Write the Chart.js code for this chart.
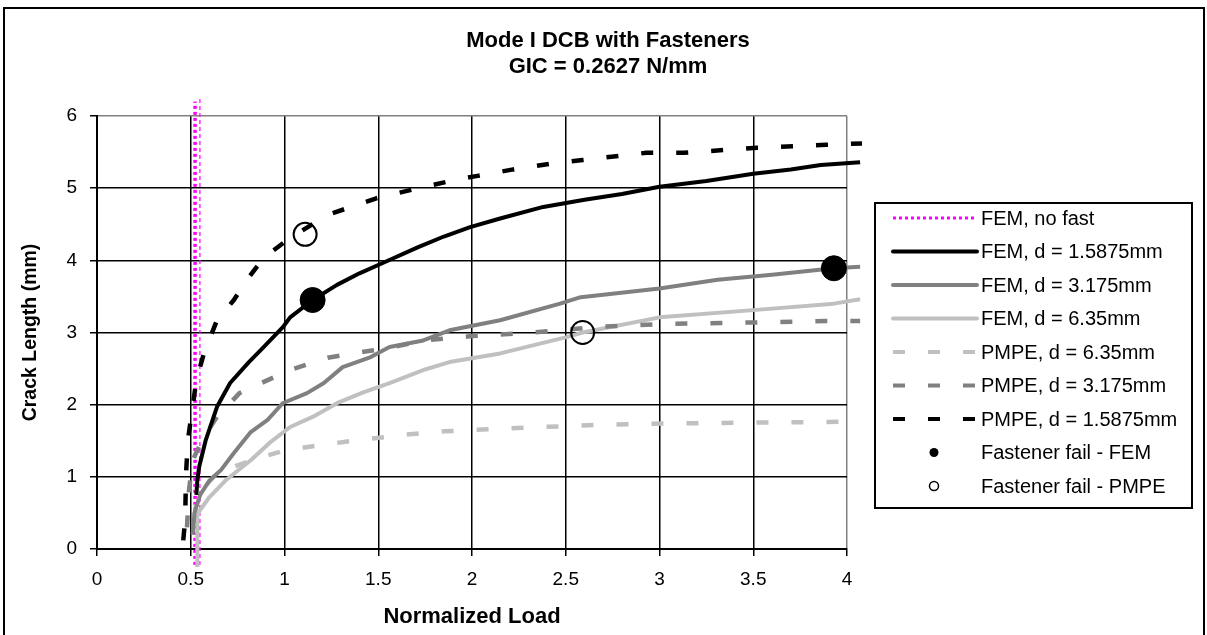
<!DOCTYPE html>
<html>
<head>
<meta charset="utf-8">
<script src="https://cdn.jsdelivr.net/npm/chart.js@4.4.1/dist/chart.umd.min.js"></script>
<style>
html,body{margin:0;padding:0;background:#fff;}
#wrap{width:1207px;height:635px;position:relative;}
</style>
</head>
<body>
<div id="wrap"><canvas id="c" width="1207" height="635"></canvas></div>
<script>
// ---- Data ----
const titleLines = ['Mode I DCB with Fasteners', 'GIC = 0.2627 N/mm'];
const xTitle = 'Normalized Load';
const yTitle = 'Crack Length (mm)';
const xTicks = [0, 0.5, 1, 1.5, 2, 2.5, 3, 3.5, 4];
const yTicks = [0, 1, 2, 3, 4, 5, 6];

const noFastX = [0.523, 0.523];
const noFastY = [-0.22, 6.2];
const noFast2X = [0.549, 0.549];
const noFast2Y = [-0.22, 6.25];

const fem1X = [0.53, 0.535, 0.545, 0.58, 0.64, 0.71, 0.81, 0.89, 0.99, 1.03, 1.15, 1.28, 1.40, 1.53, 1.71, 1.85, 1.99, 2.15, 2.38, 2.6, 2.8, 3.0, 3.25, 3.5, 3.7, 3.86, 4.07];
const fem1Y = [0.75, 0.95, 1.14, 1.51, 1.97, 2.30, 2.59, 2.80, 3.07, 3.21, 3.45, 3.66, 3.82, 3.97, 4.18, 4.33, 4.46, 4.58, 4.74, 4.84, 4.92, 5.02, 5.10, 5.20, 5.26, 5.32, 5.36];

const fem3X = [0.51, 0.52, 0.55, 0.60, 0.66, 0.73, 0.82, 0.91, 0.99, 1.12, 1.21, 1.31, 1.46, 1.56, 1.74, 1.88, 2.15, 2.47, 2.58, 3.0, 3.31, 3.6, 3.93, 4.07];
const fem3Y = [0.2, 0.5, 0.75, 0.95, 1.09, 1.33, 1.62, 1.79, 2.02, 2.16, 2.30, 2.52, 2.66, 2.80, 2.89, 3.03, 3.17, 3.40, 3.49, 3.61, 3.73, 3.80, 3.89, 3.91];

const fem6X = [0.535, 0.535, 0.55, 0.60, 0.69, 0.82, 0.92, 1.03, 1.15, 1.28, 1.42, 1.56, 1.74, 1.88, 2.15, 2.51, 2.59, 3.0, 3.5, 3.93, 4.07];
const fem6Y = [-0.25, 0.45, 0.54, 0.72, 0.96, 1.23, 1.47, 1.69, 1.83, 2.02, 2.17, 2.30, 2.48, 2.59, 2.71, 2.94, 3.0, 3.21, 3.31, 3.40, 3.46];

const pmpe6X = [0.52, 0.53, 0.56, 0.64, 0.75, 0.87, 1.01, 1.19, 1.40, 1.63, 1.85, 2.27, 2.68, 3.07, 3.47, 3.86, 4.07];
const pmpe6Y = [0.45, 0.65, 0.82, 1.05, 1.16, 1.27, 1.37, 1.44, 1.51, 1.58, 1.63, 1.68, 1.72, 1.74, 1.75, 1.76, 1.77];

const pmpe3X = [0.48, 0.49, 0.51, 0.57, 0.64, 0.76, 0.91, 1.03, 1.23, 1.44, 1.55, 1.74, 2.0, 2.27, 2.47, 2.67, 3.07, 3.52, 3.89, 4.07];
const pmpe3Y = [0.3, 0.8, 1.23, 1.55, 1.83, 2.16, 2.34, 2.48, 2.65, 2.74, 2.78, 2.89, 2.95, 2.99, 3.03, 3.08, 3.12, 3.14, 3.16, 3.16];

const pmpe1X = [0.46, 0.47, 0.475, 0.485, 0.51, 0.53, 0.57, 0.64, 0.73, 0.80, 0.89, 1.03, 1.23, 1.49, 1.73, 1.92, 2.03, 2.22, 2.42, 2.59, 2.93, 3.13, 3.52, 3.89, 4.08];
const pmpe1Y = [0.12, 0.4, 1.05, 1.51, 1.97, 2.34, 2.71, 3.17, 3.45, 3.73, 4.04, 4.31, 4.63, 4.86, 5.01, 5.12, 5.17, 5.26, 5.34, 5.39, 5.49, 5.49, 5.56, 5.60, 5.62];

const failFemX = [1.15, 3.93];
const failFemY = [3.45, 3.89];
const failPmpeX = [1.11, 2.59];
const failPmpeY = [4.36, 3.0];

// ---- helpers ----
const pts = (xs, ys) => xs.map((x, i) => ({x: x, y: ys[i]}));
const FONT = '"Liberation Sans", Arial, sans-serif';
const DASH = [12, 23];

function lineDs(label, xs, ys, color, width, dash, order, extra) {
  return Object.assign({
    label: label, data: pts(xs, ys), showLine: true, borderColor: color,
    backgroundColor: color, borderWidth: width, borderDash: dash || [],
    pointRadius: 0, pointHoverRadius: 0, tension: 0, clip: false, order: order,
    borderCapStyle: 'butt', borderJoinStyle: 'round'
  }, extra || {});
}

const datasets = [
  lineDs('FEM, no fast', noFastX, noFastY, '#ff00ff', 3.5, [3, 3], 9, {legendKind: 'dot'}),
  lineDs('', noFast2X, noFast2Y, '#ff00ff', 1.2, [4, 3], 9, {legendHide: true}),
  lineDs('FEM, d = 1.5875mm', fem1X, fem1Y, '#000000', 4, [], 3),
  lineDs('FEM, d = 3.175mm', fem3X, fem3Y, '#808080', 4, [], 5),
  lineDs('FEM, d = 6.35mm', fem6X, fem6Y, '#c0c0c0', 4, [], 6),
  lineDs('PMPE, d = 6.35mm', pmpe6X, pmpe6Y, '#c0c0c0', 4.5, DASH, 7),
  lineDs('PMPE, d = 3.175mm', pmpe3X, pmpe3Y, '#808080', 4.5, DASH, 4),
  lineDs('PMPE, d = 1.5875mm', pmpe1X, pmpe1Y, '#000000', 4.5, DASH, 2),
  {label: 'Fastener fail - FEM', data: pts(failFemX, failFemY), showLine: false,
   pointRadius: 12.5, pointHoverRadius: 12.5, pointBackgroundColor: '#000', pointBorderColor: '#000',
   pointBorderWidth: 1, backgroundColor: '#000', borderColor: '#000', clip: false, order: 0, legendKind: 'fill'},
  {label: 'Fastener fail - PMPE', data: pts(failPmpeX, failPmpeY), showLine: false,
   pointRadius: 11.5, pointHoverRadius: 11.5, pointBackgroundColor: 'rgba(0,0,0,0)', pointBorderColor: '#000',
   pointBorderWidth: 2, backgroundColor: 'rgba(0,0,0,0)', borderColor: '#000', clip: false, order: 0, legendKind: 'open'}
];

const decorPlugin = {
  id: 'decor',
  beforeDraw(chart) {
    const ctx = chart.ctx;
    ctx.save();
    ctx.fillStyle = '#fff';
    ctx.fillRect(0, 0, chart.width, chart.height);
    ctx.restore();
  },
  afterDraw(chart) {
    const ctx = chart.ctx;
    const area = chart.chartArea;
    ctx.save();
    // outer frame
    ctx.strokeStyle = '#000';
    ctx.lineWidth = 2;
    ctx.strokeRect(4, 8, 1200, 700);
    // title
    ctx.fillStyle = '#000';
    ctx.textAlign = 'center';
    ctx.textBaseline = 'alphabetic';
    ctx.font = 'bold 22px ' + FONT;
    ctx.fillText(titleLines[0], 608, 47);
    ctx.fillText(titleLines[1], 608, 73);
    // axis titles
    ctx.font = 'bold 22px ' + FONT;
    ctx.fillText(xTitle, (area.left + area.right) / 2, 623);
    ctx.save();
    ctx.translate(31, (area.top + area.bottom) / 2);
    ctx.rotate(-Math.PI / 2);
    ctx.textBaseline = 'middle';
    ctx.font = 'bold 19.5px ' + FONT;
    ctx.fillText(yTitle, 0, 0);
    ctx.restore();

    // legend
    const bx = 875, by = 203, bw = 317, bh = 305;
    ctx.fillStyle = '#fff';
    ctx.fillRect(bx, by, bw, bh);
    ctx.strokeStyle = '#000';
    ctx.lineWidth = 2;
    ctx.strokeRect(bx, by, bw, bh);
    ctx.font = '20px ' + FONT;
    ctx.textAlign = 'left';
    ctx.textBaseline = 'middle';
    let row = 0;
    chart.data.datasets.forEach(ds => {
      if (ds.legendHide) return;
      const y = 218 + row * 33.5;
      const x0 = 893, x1 = 977;
      if (ds.legendKind === 'fill' || ds.legendKind === 'open') {
        ctx.beginPath();
        ctx.arc(934, y, 4.5, 0, Math.PI * 2);
        if (ds.legendKind === 'fill') { ctx.fillStyle = '#000'; ctx.fill(); }
        else { ctx.strokeStyle = '#000'; ctx.lineWidth = 1.5; ctx.stroke(); }
      } else {
        ctx.beginPath();
        ctx.strokeStyle = ds.borderColor;
        ctx.lineWidth = ds.legendKind === 'dot' ? 3 : 4;
        ctx.lineCap = ds.legendKind === 'dot' ? 'butt' : 'round';
        ctx.setLineDash(ds.legendKind === 'dot' ? [3, 3] : ds.borderDash);
        if (ds.borderDash.length && ds.legendKind !== 'dot') ctx.lineCap = 'butt';
        ctx.moveTo(x0, y);
        ctx.lineTo(x1, y);
        ctx.stroke();
        ctx.setLineDash([]);
        ctx.lineCap = 'butt';
      }
      ctx.fillStyle = '#000';
      ctx.fillText(ds.label, 981, y + 1);
      row++;
    });
    ctx.restore();
  }
};

const gridColor = (maxVal) => (c) => (c.tick && c.tick.value === maxVal) ? '#808080' : '#000000';

new Chart(document.getElementById('c'), {
  type: 'scatter',
  data: {datasets: datasets},
  options: {
    responsive: false,
    animation: false,
    events: [],
    layout: {padding: {top: 116, right: 360, bottom: 0, left: 0}},
    plugins: {legend: {display: false}, title: {display: false}, tooltip: {enabled: false}},
    scales: {
      x: {
        type: 'linear', min: 0, max: 4,
        afterBuildTicks: (s) => { s.ticks = xTicks.map(v => ({value: v})); },
        afterFit: (s) => { s.height = 86; },
        ticks: {color: '#000', font: {family: FONT, size: 19}, padding: 12, maxRotation: 0,
          callback: (v) => String(v)},
        grid: {color: gridColor(4), lineWidth: 1.5, tickLength: 7, tickColor: '#000'},
        border: {color: '#000', width: 2}
      },
      y: {
        type: 'linear', min: 0, max: 6,
        afterBuildTicks: (s) => { s.ticks = yTicks.map(v => ({value: v})); },
        afterFit: (s) => { s.width = 97; },
        ticks: {color: '#000', font: {family: FONT, size: 19}, padding: 13,
          callback: (v) => String(v)},
        grid: {color: gridColor(6), lineWidth: 1.5, tickLength: 7, tickColor: '#000'},
        border: {color: '#000', width: 2}
      }
    }
  },
  plugins: [decorPlugin]
});
</script>
</body>
</html>
